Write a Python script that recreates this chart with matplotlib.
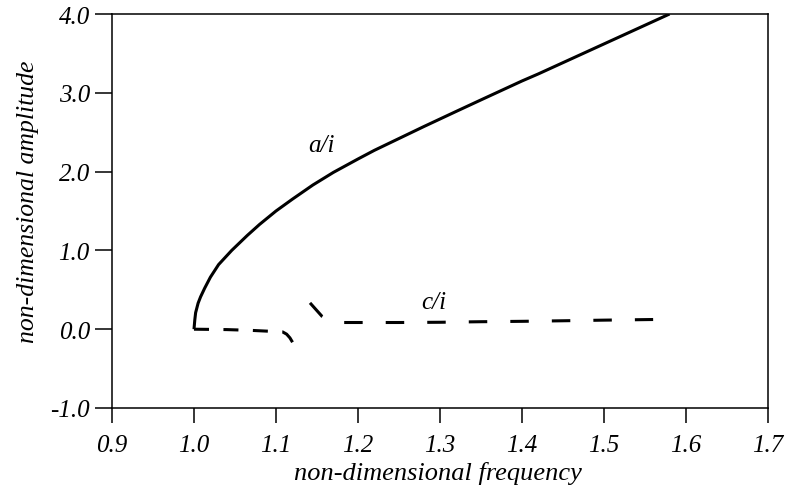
import matplotlib
matplotlib.use("Agg")
import matplotlib.pyplot as plt

# a/i backbone curve
a_x = [1.000, 1.001, 1.002, 1.005, 1.008, 1.013, 1.020, 1.030, 1.046, 1.065, 1.080, 1.100,
       1.120, 1.145, 1.170, 1.200, 1.220, 1.250, 1.280, 1.320, 1.350, 1.400, 1.420, 1.460,
       1.500, 1.540, 1.580]
a_y = [0.00, 0.12, 0.21, 0.33, 0.41, 0.52, 0.66, 0.82, 1.00, 1.19, 1.33, 1.50,
       1.65, 1.83, 1.99, 2.16, 2.27, 2.42, 2.57, 2.765, 2.91, 3.15, 3.24, 3.43,
       3.62, 3.81, 4.00]

# c/i dashed branches
c1_x = [1.000, 1.040, 1.070, 1.090, 1.108, 1.113, 1.117, 1.121]
c1_y = [0.00, -0.005, -0.015, -0.025, -0.034, -0.063, -0.11, -0.18]
c2_x = [1.1415, 1.156, 1.165, 1.172, 1.180, 1.250, 1.300, 1.350, 1.400, 1.450, 1.500, 1.560]
c2_y = [0.334, 0.165, 0.110, 0.092, 0.085, 0.085, 0.088, 0.095, 0.100, 0.107, 0.115, 0.123]

x_ticks = [0.9, 1.0, 1.1, 1.2, 1.3, 1.4, 1.5, 1.6, 1.7]
y_ticks = [-1.0, 0.0, 1.0, 2.0, 3.0, 4.0]

plt.rcParams['font.family'] = ['Liberation Serif', 'DejaVu Serif']
plt.rcParams['lines.scale_dashes'] = False

fig = plt.figure(figsize=(7.86, 4.89), dpi=100)
ax = fig.add_axes([0.1425, 0.1636, 0.8345, 0.8057])

ax.plot(a_x, a_y, color='black', lw=2.2, solid_capstyle='butt', solid_joinstyle='round')
ax.plot(c1_x, c1_y, color='black', lw=2.2, linestyle=(0, (10.8, 10.4)), dash_capstyle='butt')
ax.plot(c2_x, c2_y, color='black', lw=2.2, linestyle=(0, (13.3, 16.6)), dash_capstyle='butt')

ax.set_xlim(0.9, 1.7)
ax.set_ylim(-1.0, 4.0)
ax.set_xticks(x_ticks)
ax.set_yticks(y_ticks)
ax.set_xticklabels([f"{v:.1f}" for v in x_ticks], fontstyle='italic', fontsize=18)
ax.set_yticklabels([f"{v:.1f}" for v in y_ticks], fontstyle='italic', fontsize=18)
ax.tick_params(axis='x', direction='out', length=11, width=1.1, pad=8, top=False)
ax.tick_params(axis='y', direction='out', length=12, width=1.1, pad=4, right=False)
for s in ax.spines.values():
    s.set_linewidth(1.1)

ax.set_xlabel('non-dimensional frequency', fontstyle='italic', fontsize=19)
ax.set_ylabel('non-dimensional amplitude', fontstyle='italic', fontsize=18.5)
ax.xaxis.set_label_coords(0.497, -0.135)
ax.yaxis.set_label_coords(-0.112, 0.525)

ax.text(1.155, 2.26, 'a/i', fontstyle='italic', fontsize=18, ha='center', va='baseline')
ax.text(1.2927, 0.266, 'c/i', fontstyle='italic', fontsize=18, ha='center', va='baseline')

fig.savefig('out.png', dpi=100)
